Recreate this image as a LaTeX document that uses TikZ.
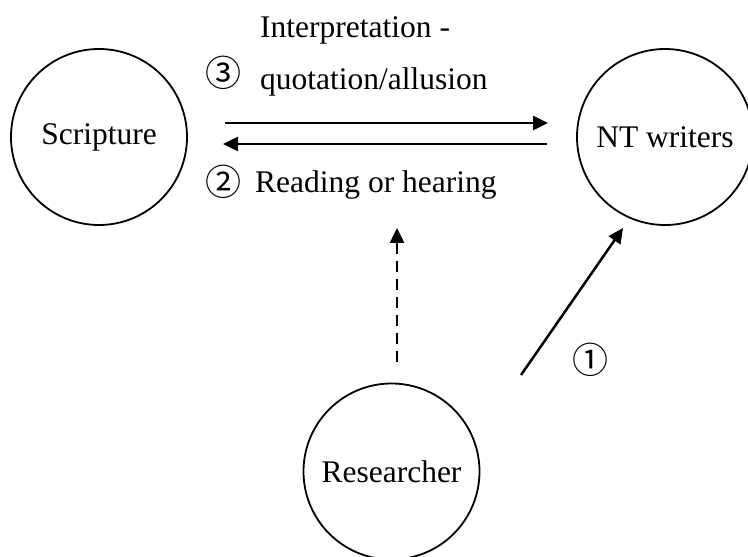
\documentclass[tikz,border=0pt]{standalone}
\usepackage{fontspec}
\setmainfont{Liberation Serif}
\newfontfamily\circfont{Noto Sans CJK KR}
\usetikzlibrary{arrows.meta}
\begin{document}
\begin{tikzpicture}[x=1bp,y=-1bp,
  ent/.style={circle,draw,line width=1.8bp,minimum size=176bp,inner sep=0pt,font=\fontsize{31.5bp}{36bp}\selectfont},
  lbl/.style={inner sep=0pt,anchor=base west,font=\fontsize{31.5bp}{36bp}\selectfont},
  num/.style={inner sep=0pt,font=\circfont\fontsize{36bp}{38bp}\selectfont},
  conn/.style={line width=2.5bp,-{Triangle[length=15bp,width=14bp]}},
  dconn/.style={conn,dash pattern=on 11bp off 7bp}]
\useasboundingbox (0,0) rectangle (748,557);
\clip (0,0) rectangle (748,557);
\node[ent] (scr) at (99,137) {Scripture};
\node[ent] (ntw) at (665,137) {NT writers};
\node[ent] (res) at (391.5,471.5) {Researcher};
% labels
\node[lbl] (l3a) at (260,38) {Interpretation -};
\node[lbl] (l3b) at (260,90) {quotation/allusion};
\node[num] (n3) at (223,73) {③};
\node[lbl] (l2) at (255,193) {Reading or hearing};
\node[num] (n2) at (223,182) {②};
\node[num] (n1) at (590,360) {①};
% connector end points
\coordinate (a1s) at (225,123);
\coordinate (a1e) at (548,123);
\coordinate (a2s) at (547,144);
\coordinate (a2e) at (223,144);
\coordinate (ds) at (397,362);
\coordinate (de) at (397,228);
\coordinate (ss) at (521,375);
\coordinate (se) at (623,228);
\draw[conn] (a1s) -- (a1e);
\draw[conn] (a2s) -- (a2e);
\draw[dconn] (ds) -- (de);
\draw[conn] (ss) -- (se);
\end{tikzpicture}
\end{document}
